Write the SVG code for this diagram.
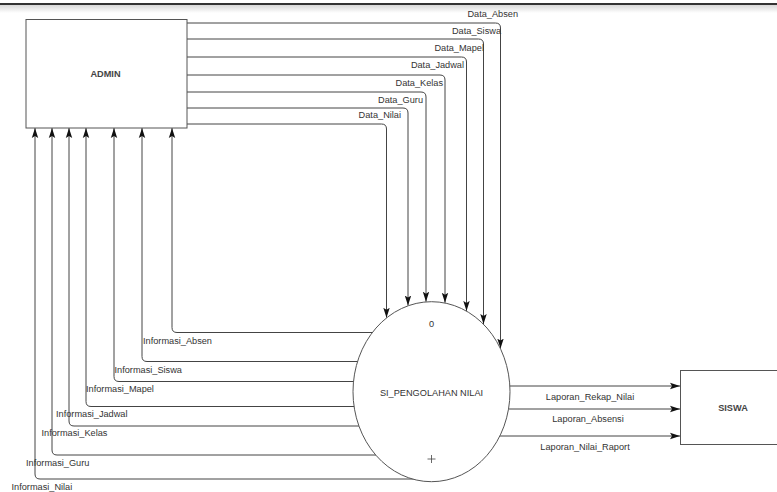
<svg xmlns="http://www.w3.org/2000/svg" width="777" height="492" viewBox="0 0 777 492">
<style>
.n{fill:#fff;stroke:#555;stroke-width:1}
.c{fill:none;stroke:#444;stroke-width:1}
.a{marker-end:url(#ah)}
text{font-family:"Liberation Sans",Arial,sans-serif;font-size:9.2px;fill:#333}
.m{text-anchor:middle}
.e{text-anchor:end}
.b{font-weight:bold;fill:#444}
</style>
<defs>
<marker id="ah" viewBox="0 0 10 10" refX="10" refY="5" markerWidth="10" markerHeight="10" markerUnits="userSpaceOnUse" orient="auto">
<path d="M0,1.8 L10,5 L0,8.2 L2,5 Z" fill="#111"/>
</marker>
<linearGradient id="sh" x1="0" y1="0" x2="0" y2="1">
<stop offset="0" stop-color="#d8d8d8"/>
<stop offset="1" stop-color="#fff"/>
</linearGradient>
</defs>
<rect x="0" y="0" width="777" height="492" fill="#fff"/>
<rect x="0" y="5" width="777" height="8" fill="url(#sh)"/>
<rect x="0" y="3" width="777" height="2" fill="#333"/>

<g id="connectors">
<path class="c a" d="M187,23 H495.5 Q500.5,23 500.5,28 V348.6"/>
<path class="c a" d="M187,39 H478.5 Q483.5,39 483.5,44 V324.1"/>
<path class="c a" d="M187,57 H461.5 Q466.5,57 466.5,62 V310.9"/>
<path class="c a" d="M187,75 H440 Q445,75 445,80 V302.8"/>
<path class="c a" d="M187,92 H421 Q426,92 426,97 V301.7"/>
<path class="c a" d="M187,108 H403 Q408,108 408,113 V305.6"/>
<path class="c a" d="M187,124 H381.5 Q386.5,124 386.5,129 V317.8"/>

<path class="c a" d="M380,332.5 H177 Q172,332.5 172,327.5 V128"/>
<path class="c a" d="M370,361.5 H147 Q142,361.5 142,356.5 V128"/>
<path class="c a" d="M370,381.5 H119 Q114,381.5 114,376.5 V128"/>
<path class="c a" d="M370,406.5 H91 Q86,406.5 86,401.5 V128"/>
<path class="c a" d="M370,426 H74 Q69,426 69,421 V128"/>
<path class="c a" d="M390,455 H57 Q52,455 52,450 V128"/>
<path class="c a" d="M420,479 H40 Q35,479 35,474 V128"/>

<path class="c a" d="M490,386 H680"/>
<path class="c a" d="M490,409 H680"/>
<path class="c a" d="M480,436 H680"/>

<text class="e" x="518" y="17">Data_Absen</text>
<text class="e" x="501" y="33.5">Data_Siswa</text>
<text class="e" x="484" y="50.5">Data_Mapel</text>
<text class="e" x="464" y="68">Data_Jadwal</text>
<text class="e" x="443" y="85.5">Data_Kelas</text>
<text class="e" x="423" y="102.5">Data_Guru</text>
<text class="e" x="401" y="117.5">Data_Nilai</text>

<text x="143" y="344">Informasi_Absen</text>
<text x="114.5" y="373">Informasi_Siswa</text>
<text x="86" y="392">Informasi_Mapel</text>
<text x="56" y="417">Informasi_Jadwal</text>
<text x="41.5" y="436">Informasi_Kelas</text>
<text x="26" y="466">Informasi_Guru</text>
<text x="11.5" y="490">Informasi_Nilai</text>

<text class="m" x="590" y="399.5">Laporan_Rekap_Nilai</text>
<text class="m" x="588" y="422">Laporan_Absensi</text>
<text class="m" x="585" y="449.5">Laporan_Nilai_Raport</text>
</g>

<g id="admin">
<rect class="n" x="26" y="19.5" width="161" height="108.5"/>
<text class="m b" x="105.5" y="76.5">ADMIN</text>
</g>

<g id="proses">
<ellipse class="n" cx="431.5" cy="391.7" rx="78.5" ry="90"/>
<text class="m" x="431.5" y="326.5">0</text>
<text class="m" x="431.5" y="396">SI_PENGOLAHAN NILAI</text>
<path d="M431.5,455 V463 M427.5,459 H435.5" stroke="#444" stroke-width="0.8" fill="none"/>
</g>

<g id="siswa">
<rect class="n" x="680.5" y="370.5" width="100" height="74"/>
<text class="m b" x="733" y="411">SISWA</text>
</g>
</svg>
